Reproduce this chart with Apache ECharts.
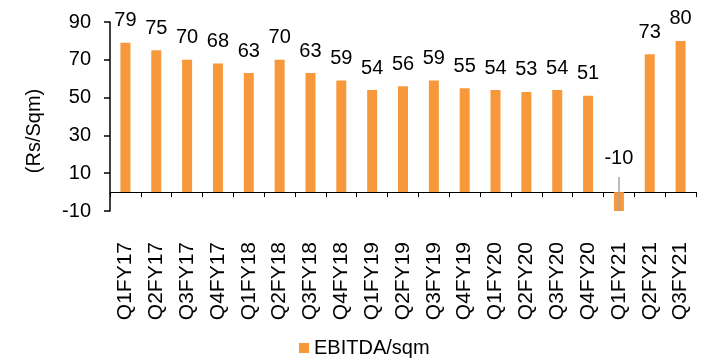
<!DOCTYPE html>
<html>
<head>
<meta charset="utf-8">
<script src="https://cdn.jsdelivr.net/npm/echarts@6/dist/echarts.min.js"></script>
<style>
  html, body { margin: 0; padding: 0; background: #fff; }
  #chart { width: 703px; height: 358px; }
</style>
</head>
<body>
<div id="chart"></div>
<script>
// Quarterly EBITDA per square metre
const quarters = ['Q1FY17','Q2FY17','Q3FY17','Q4FY17','Q1FY18','Q2FY18','Q3FY18','Q4FY18',
  'Q1FY19','Q2FY19','Q3FY19','Q4FY19','Q1FY20','Q2FY20','Q3FY20','Q4FY20',
  'Q1FY21','Q2FY21','Q3FY21'];
const ebitdaPerSqm = [79, 75, 70, 68, 63, 70, 63, 59, 54, 56, 59, 55, 54, 53, 54, 51, -10, 73, 80];
const yTicks = [-10, 10, 30, 50, 70, 90];

const FONT = '"Liberation Sans", Arial, sans-serif';
const BAR = '#F7983A';

const data = ebitdaPerSqm.map(v => v < 0
  ? { value: v, label: { distance: 24 } }
  : v);

// leader line for the negative quarter, from its bar end up toward its label
const negIdx = ebitdaPerSqm.findIndex(v => v < 0);
const leader = negIdx >= 0 ? [[
  { coord: [quarters[negIdx], ebitdaPerSqm[negIdx]] },
  { coord: [quarters[negIdx], 8] }
]] : [];

const chart = echarts.init(document.getElementById('chart'));
chart.setOption({
  animation: false,
  textStyle: { fontFamily: FONT },
  grid: { left: 110, right: 7, top: 22, bottom: 147 },
  legend: {
    data: ['EBITDA/sqm'],
    left: 294, top: 333,
    icon: 'rect', itemWidth: 10, itemHeight: 10, itemGap: 6,
    textStyle: { fontFamily: FONT, fontSize: 20, color: '#000' }
  },
  xAxis: {
    type: 'category',
    data: quarters,
    axisLine: { onZero: true, lineStyle: { color: '#000', width: 1 } },
    axisTick: { show: true, length: 5, lineStyle: { color: '#000' } },
    axisLabel: { rotate: 90, margin: 31, fontSize: 21, color: '#000', fontFamily: FONT, interval: 0 }
  },
  yAxis: {
    type: 'value',
    min: yTicks[0], max: yTicks[yTicks.length - 1], interval: yTicks[1] - yTicks[0],
    name: '(Rs/Sqm)',
    nameLocation: 'middle',
    nameGap: 66,
    nameTextStyle: { fontSize: 20, color: '#000', fontFamily: FONT, padding: [0, 0, 0, -29] },
    axisLine: { show: true, lineStyle: { color: '#000', width: 1.5 } },
    axisTick: { show: true, length: 6, lineStyle: { color: '#000', width: 1.5 } },
    axisLabel: { margin: 19, fontSize: 20, color: '#000', fontFamily: FONT },
    splitLine: { show: false }
  },
  series: [{
    name: 'EBITDA/sqm',
    type: 'bar',
    barWidth: 10,
    data: data,
    itemStyle: { color: BAR },
    label: { show: true, position: 'top', distance: 12, fontSize: 20, color: '#000', fontFamily: FONT },
    markLine: {
      silent: true,
      symbol: 'none',
      label: { show: false },
      lineStyle: { color: '#A6A6A6', width: 1.5, type: 'solid' },
      data: leader
    }
  }]
});
</script>
</body>
</html>
